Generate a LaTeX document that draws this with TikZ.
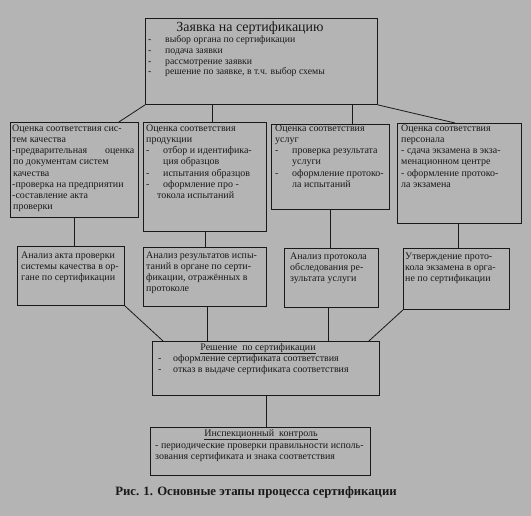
\documentclass[tikz,border=0pt]{standalone}
\usepackage{fontspec}
\setmainfont{Liberation Serif}
\definecolor{bg}{RGB}{180,180,180}
\definecolor{ink}{RGB}{25,25,25}
\newcommand{\dsh}[1]{\makebox[#1][l]{-}}
\begin{document}
\begin{tikzpicture}[x=1bp,y=-1bp,
  box/.style={draw=ink, line width=0.9bp, inner sep=0, anchor=north west},
  txt/.style={inner sep=0, anchor=base west, text=ink, font=\fontsize{10}{11.2}\selectfont},
  small/.style={inner sep=0, anchor=base west, text=ink, font=\fontsize{9.8}{10.7}\selectfont},
  conn/.style={draw=ink, line width=0.8bp}]
\fill[bg] (0,0) rectangle (531,516);
\useasboundingbox (0,0) rectangle (531,516);
% boxes
\node[box, minimum width=232bp, minimum height=86bp] (top) at (145,18) {};
\node[box, minimum width=128bp, minimum height=95bp] (b1) at (10,122) {};
\node[box, minimum width=123bp, minimum height=109bp] (b2) at (143,122) {};
\node[box, minimum width=118bp, minimum height=85bp] (b3) at (271,124) {};
\node[box, minimum width=124bp, minimum height=100bp] (b4) at (397,123) {};
\node[box, minimum width=107bp, minimum height=59bp] (b5) at (17,246) {};
\node[box, minimum width=123bp, minimum height=59bp] (b6) at (143,247) {};
\node[box, minimum width=94bp, minimum height=59bp] (b7) at (284,248) {};
\node[box, minimum width=106bp, minimum height=61bp] (b8) at (403,248) {};
\node[box, minimum width=227bp, minimum height=54bp] (dec) at (152,341) {};
\node[box, minimum width=220bp, minimum height=48bp] (insp) at (150,427) {};
% texts
\node[inner sep=0, anchor=base, text=ink, font=\fontsize{14}{16}\selectfont] (ttop) at (250,32) {Заявка на сертификацию};
\node[small] (ltop) at (148,43) {\parbox[t]{225bp}{\dsh{17bp}выбор органа по сертификации\\
\dsh{17bp}подача заявки\\
\dsh{17bp}рассмотрение заявки\\
\dsh{17bp}решение по заявке, в т.ч. выбор схемы}};
\node[txt] (t1) at (12,131.5) {\parbox[t]{126bp}{Оценка соответствия сис-\\
тем качества\\
\makebox[122bp][l]{-предварительная\hfill оценка}\\
\hspace*{1bp}по документам систем\\
\hspace*{1bp}качества\\
-проверка на предприятии\\
-составление акта\\
\hspace*{1bp}проверки}};
\node[txt] (t2) at (146,131.5) {\parbox[t]{120bp}{Оценка соответствия\\
продукции\\
\dsh{17bp}отбор и идентифика-\\
\hspace*{17bp}ция образцов\\
\dsh{17bp}испытания образцов\\
\dsh{17bp}оформление про -\\
\hspace*{11bp}токола испытаний}};
\node[txt] (t3) at (275,131.5) {\parbox[t]{114bp}{Оценка соответствия\\
услуг\\
\dsh{17bp}проверка результата\\
\hspace*{17bp}услуги\\
\dsh{17bp}оформление протоко-\\
\hspace*{17bp}ла испытаний}};
\node[txt] (t4) at (401,131.5) {\parbox[t]{120bp}{Оценка соответствия\\
персонала\\
- сдача экзамена в экза-\\
менационном центре\\
- оформление протоко-\\
ла экзамена}};
\node[txt] (t5) at (21,258) {\parbox[t]{104bp}{Анализ акта проверки\\
системы качества в ор-\\
гане по сертификации}};
\node[txt] (t6) at (146,258) {\parbox[t]{120bp}{Анализ результатов испы-\\
таний в органе по серти-\\
фикации, отражённых в\\
протоколе}};
\node[txt] (t7) at (290,259) {\parbox[t]{90bp}{Анализ протокола\\
обследования ре-\\
зультата услуги}};
\node[txt] (t8) at (405,259) {\parbox[t]{104bp}{Утверждение прото-\\
кола экзамена в орга-\\
не по сертификации}};
\node[inner sep=0, anchor=base, text=ink, font=\fontsize{10}{11}\selectfont] (tdec) at (258,350) {\underline{Решение\ \ по сертификации}};
\node[txt] (ldec) at (158,361) {\parbox[t]{220bp}{\dsh{15bp}оформление сертификата соответствия\\
\dsh{15bp}отказ в выдаче сертификата соответствия}};
\node[inner sep=0, anchor=base, text=ink, font=\fontsize{10}{11}\selectfont] (tinsp) at (261,436) {\underline{Инспекционный\ \ контроль}};
\node[txt] (linsp) at (155,448) {\parbox[t]{214bp}{- периодические проверки правильности исполь-\\
зования сертификата и знака соответствия}};
\node[inner sep=0, anchor=base, text=ink, font=\bfseries\fontsize{12.8}{14}\selectfont] (cap) at (256,495) {Рис. 1. Основные этапы процесса сертификации};
% connectors
\draw[conn] (top.south west) -- ([xshift=-20bp]b1.north east);
\draw[conn] ([xshift=67bp]top.south west) -- ([xshift=67bp]top.south west |- b2.north);
\draw[conn] ([xshift=207bp]top.south west) -- ([xshift=207bp]top.south west |- b3.north);
\draw[conn] (top.south east) -- ([xshift=58bp]b4.north west);
\draw[conn] ([xshift=64bp]b1.south west) -- ([xshift=64bp]b1.south west |- b5.north);
\draw[conn] ([xshift=62bp]b2.south west) -- ([xshift=62bp]b2.south west |- b6.north);
\draw[conn] ([xshift=59bp]b3.south west) -- ([xshift=59bp]b3.south west |- b7.north);
\draw[conn] ([xshift=61bp]b4.south west) -- ([xshift=61bp]b4.south west |- b8.north);
\draw[conn] (b5.south east) -- ([xshift=11bp]dec.north west);
\draw[conn] ([xshift=64bp]b6.south west) -- ([xshift=64bp]b6.south west |- dec.north);
\draw[conn] ([xshift=44bp]b7.south west) -- ([xshift=44bp]b7.south west |- dec.north);
\draw[conn] (b8.south west) -- ([xshift=-11bp]dec.north east);
\draw[conn] ([xshift=114bp]dec.south west) -- ([xshift=114bp]dec.south west |- insp.north);
\end{tikzpicture}
\end{document}
